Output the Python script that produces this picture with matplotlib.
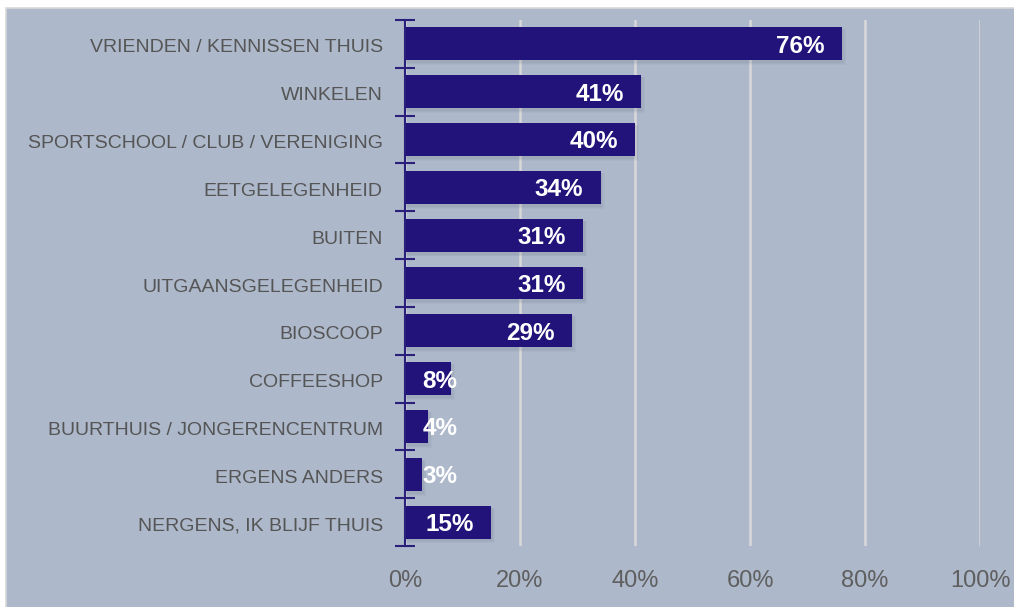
import matplotlib
matplotlib.use("Agg")
import matplotlib.pyplot as plt
import matplotlib.transforms as mtrans
from matplotlib.patches import Rectangle

categories = [
    "VRIENDEN / KENNISSEN THUIS",
    "WINKELEN",
    "SPORTSCHOOL / CLUB / VERENIGING",
    "EETGELEGENHEID",
    "BUITEN",
    "UITGAANSGELEGENHEID",
    "BIOSCOOP",
    "COFFEESHOP",
    "BUURTHUIS / JONGERENCENTRUM",
    "ERGENS ANDERS",
    "NERGENS, IK BLIJF THUIS",
]
values = [76, 41, 40, 34, 31, 31, 29, 8, 4, 3, 15]
xticks = [0, 20, 40, 60, 80, 100]
xtick_labels = ["0%", "20%", "40%", "60%", "80%", "100%"]

plt.rcParams['font.family'] = ['Liberation Sans', 'DejaVu Sans']

W, H = 1014, 607
fig = plt.figure(figsize=(W / 100, H / 100), dpi=100)
fig.patch.set_facecolor('white')

bg = '#ADB8CA'
# panel background
fig.patches.append(Rectangle((6 / W, -0.05), 1.1, 1.05 - 8 / H, transform=fig.transFigure,
                             facecolor=bg, edgecolor='#d8d8d8', lw=1.2, zorder=-5))

ax = fig.add_axes([405 / W, 1 - 546 / H, (980 - 405) / W, (546 - 20) / H])
ax.set_facecolor('none')
ax.set_zorder(2)

n = len(categories)
ypos = list(range(n))
bar_color = '#22137A'

# soft shadow
for y, v in zip(ypos, values):
    for k, a in [(1.2, 0.05), (0.8, 0.06), (0.4, 0.07)]:
        ax.add_patch(Rectangle((0, y - 0.345 + 0.04), v + k * 0.6, 0.69 + k * 0.05,
                               facecolor='#5a6478', alpha=a, lw=0, zorder=1))

bars = ax.barh(ypos, values, height=0.69, color=bar_color, zorder=2)

ax.set_ylim(n - 0.5, -0.5)
ax.set_xlim(0, 100)

ax.set_xticks(xticks)
ax.set_xticklabels(xtick_labels, fontsize=17, color='#5F5F5F')
ax.tick_params(axis='x', length=0, pad=17)

ax.set_yticks(ypos)
ax.set_yticklabels(categories, fontsize=14, color='#555555')
ax.tick_params(axis='y', which='major', length=0, pad=16)
ax.set_yticks([i - 0.5 for i in range(n + 1)], minor=True)
ax.tick_params(axis='y', which='minor', direction='inout', length=14, width=1.5, color='#2A1F7A')

shift = mtrans.ScaledTranslation(0, -2 / 100, fig.dpi_scale_trans)
for lbl in ax.get_yticklabels():
    lbl.set_transform(lbl.get_transform() + shift)

for s in ['top', 'right', 'bottom']:
    ax.spines[s].set_visible(False)
ax.spines['left'].set_color('#2A1F7A')
ax.spines['left'].set_linewidth(1.5)
ax.spines['left'].set_zorder(5)

ax.grid(axis='x', color='#D9D9D9', lw=1.8, zorder=0.5)
ax.set_axisbelow(True)

for y, v in zip(ypos, values):
    lab = f"{v}%"
    if v - 3 < 9:
        ax.text(3, y + 0.05, lab, ha='left', va='center', color='white', fontsize=17.5,
                fontweight='bold', zorder=4)
    else:
        ax.text(v - 3, y + 0.05, lab, ha='right', va='center', color='white', fontsize=17.5,
                fontweight='bold', zorder=4)

fig.savefig('out.png', dpi=100, facecolor=fig.get_facecolor())
